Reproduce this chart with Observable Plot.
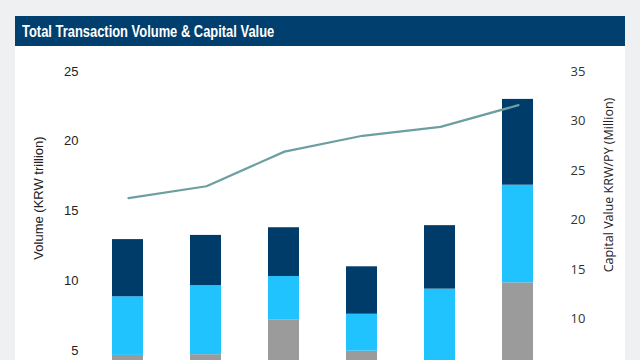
<!DOCTYPE html>
<html>
<head>
<meta charset="utf-8">
<script src="https://cdn.jsdelivr.net/npm/d3@7"></script>
<script src="https://cdn.jsdelivr.net/npm/@observablehq/plot@0.6"></script>
<style>
  html, body { margin: 0; padding: 0; width: 640px; height: 360px; overflow: hidden; background: #eff0f2; }
  #panel { position: absolute; left: 15px; top: 16px; width: 610px; height: 460px; background: #ffffff; }
  #header { position: absolute; left: 15px; top: 16px; width: 610px; height: 30px; background: #003f6e; }
  #title { position: absolute; left: 22px; top: 16px; height: 30px; line-height: 31px; color: #ffffff;
           font-family: "Liberation Sans", Arial, sans-serif;
           font-weight: bold; font-size: 17px; white-space: nowrap;
           transform: scaleX(0.76); transform-origin: 0 50%; }
  .layer { position: absolute; left: 0; top: 0; }
  .ylab { position: absolute; white-space: nowrap; color: #222; }
</style>
</head>
<body>
<div id="panel"></div>
<div id="header"></div>
<div id="title">Total Transaction Volume &amp; Capital Value</div>
<div id="bars" class="layer"></div>
<div id="line" class="layer"></div>
<script>
// ---- data ----
const years = ["2016", "2017", "2018", "2019", "2020", "2021"];
const seriesNames = ["Others", "GBD", "CBD"];
const othersVol = [4.65, 4.7, 7.2, 4.95, 3.8, 9.85];
const gbdVol = [4.2, 4.95, 3.1, 2.65, 5.6, 7.0];
const cbdVol = [4.1, 3.6, 3.5, 3.4, 4.55, 6.15];
const capitalValue = [22.2, 23.4, 26.9, 28.5, 29.4, 31.6];
// ticks visible in the cropped view
const volTicks = [5, 10, 15, 20, 25];
const capTicks = [10, 15, 20, 25, 30, 35];

const seriesValues = [othersVol, gbdVol, cbdVol];
const rows = [];
years.forEach((yr, i) => {
  seriesNames.forEach((s, k) => rows.push({year: yr, series: s, value: seriesValues[k][i]}));
});
const lineRows = years.map((yr, i) => ({year: yr, value: capitalValue[i]}));

const W = 640, H = 460;
const mL = 88.4, mR = 82.4;

const bars = Plot.plot({
  width: W, height: H,
  marginLeft: mL, marginRight: mR, marginTop: 71, marginBottom: H - 419.75,
  style: {background: "transparent", fontFamily: "'Liberation Sans', Arial, sans-serif", fontSize: "13px", color: "#222"},
  x: {type: "band", domain: years, paddingInner: 0.6, paddingOuter: 0.3, axis: null},
  y: {domain: [0, 25], label: null},
  color: {domain: seriesNames, range: ["#9b9b9b", "#21c3fe", "#003c69"]},
  marks: [
    Plot.barY(rows, {x: "year", y: "value", fill: "series", order: seriesNames}),
    Plot.axisY(volTicks, {anchor: "left", tickSize: 0, tickPadding: 10.5, label: null})
  ]
});
document.getElementById("bars").appendChild(bars);

const line = Plot.plot({
  width: W, height: H,
  marginLeft: mL, marginRight: mR, marginTop: 71, marginBottom: H - 417.2,
  style: {background: "transparent", fontFamily: "'Open Sans', sans-serif", fontSize: "13px", color: "#333", pointerEvents: "none"},
  x: {type: "point", domain: years, padding: 0.5, axis: null},
  y: {domain: [0, 35], label: null},
  marks: [
    Plot.lineY(lineRows, {x: "year", y: "value", stroke: "#6c9fa1", strokeWidth: 2.2}),
    Plot.axisY(capTicks, {anchor: "right", tickSize: 0, tickPadding: 12.5, label: null})
  ]
});
document.getElementById("line").appendChild(line);

// axis titles
const l1 = document.createElement("div");
l1.className = "ylab";
l1.textContent = "Volume (KRW trillion)";
l1.style.cssText += "font-family:'Liberation Sans',Arial,sans-serif;font-size:13px;left:38px;top:198px;transform:translate(-50%,-50%) rotate(-90deg);";
document.body.appendChild(l1);
const l2 = document.createElement("div");
l2.className = "ylab";
l2.textContent = "Capital Value KRW/PY (Million)";
l2.style.cssText += "font-family:'Open Sans',sans-serif;font-size:12.5px;left:607.5px;top:184.5px;transform:translate(-50%,-50%) rotate(-90deg);";
document.body.appendChild(l2);
</script>
</body>
</html>
